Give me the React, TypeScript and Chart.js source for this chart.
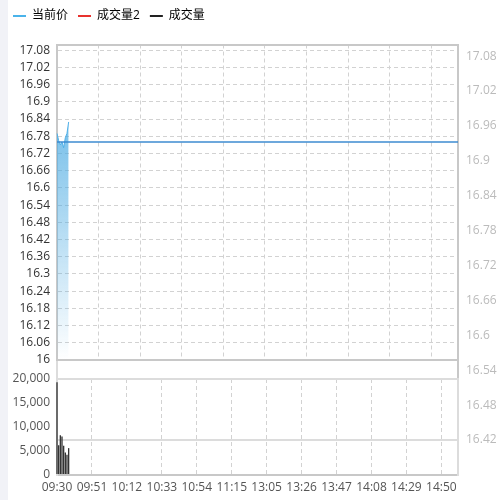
import { useEffect, useRef } from "react"
import { Chart, registerables } from "chart.js"

Chart.register(...registerables)
Chart.defaults.font.family = "'Open Sans', 'Noto Sans CJK SC', sans-serif"
Chart.defaults.font.size = 12

// trading minutes: morning and afternoon sessions
const sessions = [
  ["09:30", "11:30"],
  ["13:00", "15:00"],
]
const toMin = (s: string) => {
  const [h, m] = s.split(":").map(Number)
  return h * 60 + m
}
const pad = (n: number) => String(n).padStart(2, "0")
const times: string[] = []
for (const [from, to] of sessions) {
  for (let t = toMin(from); t <= toMin(to); t++) {
    times.push(`${pad(Math.floor(t / 60))}:${pad(t % 60)}`)
  }
}

const priceValues = [16.79, 16.765, 16.75, 16.76, 16.74, 16.775, 16.79, 16.83]
const volumeValues = [19300, 6200, 8300, 8000, 6100, 4700, 4200, 5600]
const prevClose = 16.76

const priceTicks = [
  17.08, 17.02, 16.96, 16.9, 16.84, 16.78, 16.72, 16.66, 16.6, 16.54, 16.48, 16.42, 16.36, 16.3,
  16.24, 16.18, 16.12, 16.06, 16,
]
const rightTicks = [17.08, 17.02, 16.96, 16.9, 16.84, 16.78, 16.72, 16.66, 16.6, 16.54, 16.48, 16.42]
const volumeTicks = [20000, 15000, 10000, 5000, 0]
const priceGridIdx = [0, 25, 50, 75, 100, 125, 150, 175, 200, 225]
const timeLabelIdx = [0, 21, 42, 63, 84, 105, 126, 147, 168, 189, 210, 231]

const legendNames = ["当前价", "成交量2", "成交量"]
const legendColors = ["#4ab3ea", "#e8322e", "#222222"]

const fmt = (v: number | string) => String(parseFloat(Number(v).toFixed(2)))
const toTicks = (vals: number[]) => vals.map((value) => ({ value }))

export default function App() {
  const priceRef = useRef<HTMLCanvasElement>(null)
  const volumeRef = useRef<HTMLCanvasElement>(null)
  const rightRef = useRef<HTMLCanvasElement>(null)

  useEffect(() => {
    if (!priceRef.current || !volumeRef.current || !rightRef.current) return

    const priceChart = new Chart(priceRef.current, {
      type: "line",
      data: {
        labels: times,
        datasets: [
          {
            label: "昨收",
            data: times.map(() => prevClose),
            borderColor: "#3d8bd1",
            borderWidth: 1.5,
            pointRadius: 0,
            fill: false,
            xAxisID: "x",
            yAxisID: "y",
          },
          {
            label: "当前价",
            data: priceValues,
            borderColor: "#4fb0e8",
            borderWidth: 1,
            pointRadius: 0,
            fill: "start",
            xAxisID: "x",
            yAxisID: "y",
            backgroundColor: (ctx: any) => {
              const { ctx: c, chartArea } = ctx.chart
              if (!chartArea) return "transparent"
              const g = c.createLinearGradient(0, chartArea.top, 0, chartArea.bottom)
              g.addColorStop(0, "rgba(74,170,226,1)")
              g.addColorStop(1, "rgba(74,170,226,0)")
              return g
            },
          },
        ],
      },
      options: {
        animation: false,
        responsive: false,
        events: [],
        layout: { padding: { left: 3, top: 0, right: 0, bottom: 140 } },
        plugins: {
          legend: {
            position: "top",
            align: "start",
            labels: {
              boxWidth: 13,
              boxHeight: 2,
              padding: 10,
              color: "#666",
              font: { size: 12 },
              generateLabels: () =>
                legendNames.map((text, i) => ({
                  text,
                  fillStyle: legendColors[i],
                  strokeStyle: legendColors[i],
                  lineWidth: 0,
                  hidden: false,
                  datasetIndex: i,
                })),
            },
          },
          tooltip: { enabled: false },
        },
        scales: {
          x: {
            type: "category",
            position: "bottom",
            ticks: { display: false },
            grid: { color: "#d2d2d2", lineWidth: 1, drawTicks: false },
            border: { color: "#c8c8c8", width: 2, dash: [4, 3] },
            afterBuildTicks: (s: any) => {
              s.ticks = toTicks(priceGridIdx)
            },
            afterFit: (s: any) => {
              s.height = 0
            },
          },
          xTop: {
            type: "category",
            position: "top",
            ticks: { display: false },
            grid: { display: false, drawTicks: false },
            border: { color: "#c8c8c8", width: 2 },
            afterFit: (s: any) => {
              s.height = 12.5
            },
          },
          y: {
            type: "linear",
            position: "left",
            min: 16,
            max: 17.1,
            ticks: { color: "#333", padding: 7, callback: fmt },
            grid: { color: "#d2d2d2", lineWidth: 1, drawTicks: false },
            border: { color: "#c8c8c8", width: 2, dash: [4, 3] },
            afterBuildTicks: (s: any) => {
              s.ticks = toTicks(priceTicks)
            },
            afterFit: (s: any) => {
              s.width = 54
            },
          },
          yRight: {
            type: "linear",
            position: "right",
            ticks: { display: false },
            grid: { display: false, drawTicks: false },
            border: { color: "#c8c8c8", width: 2 },
            afterFit: (s: any) => {
              s.width = 42
            },
          },
        },
      } as any,
    })

    const volumeChart = new Chart(volumeRef.current, {
      type: "bar",
      data: {
        labels: times,
        datasets: [
          {
            label: "成交量",
            data: volumeValues,
            backgroundColor: "#333",
            barPercentage: 0.8,
            categoryPercentage: 1,
            clip: false,
            xAxisID: "x",
            yAxisID: "y",
          },
        ],
      },
      options: {
        animation: false,
        responsive: false,
        events: [],
        layout: { padding: { left: 3, top: 379, right: 0, bottom: 0 } },
        plugins: { legend: { display: false }, tooltip: { enabled: false } },
        scales: {
          x: {
            type: "category",
            offset: false,
            ticks: {
              color: "#555",
              padding: 5,
              autoSkip: false,
              maxRotation: 0,
              callback: (v: any) => times[Number(v)],
            },
            grid: { offset: false, color: "#d2d2d2", drawTicks: false },
            border: { color: "#c8c8c8", width: 2, dash: [4, 3] },
            afterBuildTicks: (s: any) => {
              s.ticks = toTicks(timeLabelIdx)
            },
            afterFit: (s: any) => {
              s.height = 25
            },
          },
          y: {
            type: "linear",
            position: "left",
            min: 0,
            max: 20000,
            ticks: { color: "#555", padding: 7, callback: (v: any) => Number(v).toLocaleString("en-US") },
            grid: {
              color: (ctx: any) => (ctx.tick && ctx.tick.value === 20000 ? "#dcdcdc" : "transparent"),
              lineWidth: 2,
              drawTicks: false,
            },
            border: { color: "#dcdcdc", width: 2 },
            afterBuildTicks: (s: any) => {
              s.ticks = toTicks(volumeTicks)
            },
            afterFit: (s: any) => {
              s.width = 54
            },
          },
          yRight: {
            type: "linear",
            position: "right",
            ticks: { display: false },
            grid: { display: false, drawTicks: false },
            border: { color: "#dcdcdc", width: 2 },
            afterFit: (s: any) => {
              s.width = 42
            },
          },
        },
      } as any,
    })

    const rightChart = new Chart(rightRef.current, {
      type: "line",
      data: { labels: times, datasets: [] },
      options: {
        animation: false,
        responsive: false,
        events: [],
        layout: { padding: { left: 3, top: 44.5, right: 0, bottom: 60 } },
        plugins: { legend: { display: false }, tooltip: { enabled: false } },
        scales: {
          x: {
            type: "category",
            ticks: { display: false },
            grid: { display: false, drawTicks: false },
            border: { color: "#dcdcdc", width: 2 },
            afterFit: (s: any) => {
              s.height = 0
            },
          },
          yLeft: {
            type: "linear",
            position: "left",
            ticks: { display: false },
            grid: { display: false, drawTicks: false },
            border: { color: "#dcdcdc", width: 2 },
            afterFit: (s: any) => {
              s.width = 54
            },
          },
          y: {
            type: "linear",
            position: "right",
            min: 16.42,
            max: 17.1,
            ticks: { color: "#bbb", padding: 8, callback: fmt },
            grid: { display: false, drawTicks: false },
            border: { color: "#c8c8c8", width: 2 },
            afterBuildTicks: (s: any) => {
              s.ticks = toTicks(rightTicks)
            },
            afterFit: (s: any) => {
              s.width = 42
            },
          },
        },
      } as any,
    })

    return () => {
      priceChart.destroy()
      volumeChart.destroy()
      rightChart.destroy()
    }
  }, [])

  const layer = { position: "absolute" as const, left: 0, top: 0 }

  return (
    <div style={{ position: "fixed", left: 0, top: 0, width: 500, height: 500, background: "#fff" }}>
      <div style={{ ...layer, width: 8, height: 500, background: "#f1f2f7" }} />
      <canvas ref={rightRef} width={500} height={500} style={layer} />
      <canvas ref={priceRef} width={500} height={500} style={layer} />
      <canvas ref={volumeRef} width={500} height={500} style={layer} />
    </div>
  )
}
